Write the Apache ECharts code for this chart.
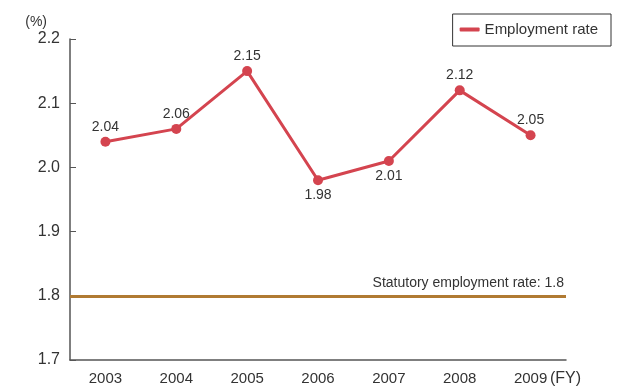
<!DOCTYPE html>
<html>
<head>
<meta charset="utf-8">
<script src="https://cdn.jsdelivr.net/npm/echarts@6/dist/echarts.min.js"></script>
<style>
  html, body { margin: 0; padding: 0; background: #fff; }
  #myChart { width: 624px; height: 387px; }
</style>
</head>
<body>
<div id="myChart"></div>
<script>
var years = ['2003', '2004', '2005', '2006', '2007', '2008', '2009'];
var employmentRate = [2.04, 2.06, 2.15, 1.98, 2.01, 2.12, 2.05];
var labelSide = ['top', 'top', 'top', 'bottom', 'bottom', 'top', 'top'];
var statutoryRate = 1.8;

var font = 'Liberation Sans, Arial, Helvetica, sans-serif';

function _initChart() {
    var myChart = echarts.init(document.getElementById('myChart'));
    var points = employmentRate.map(function (v, i) {
        return {
            value: v,
            label: { position: labelSide[i] }
        };
    });
    var option = {
        animation: false,
        textStyle: { fontFamily: font },
        legend: {
            right: 13,
            top: 14,
            padding: [8, 13, 9, 7],
            borderColor: '#333',
            borderWidth: 1,
            itemWidth: 20,
            itemHeight: 4,
            itemGap: 4,
            textStyle: { fontSize: 15, color: '#333', fontFamily: font },
            data: [{ name: 'Employment rate', icon: 'roundRect' }]
        },
        grid: { left: 70, right: 58, top: 39, bottom: 26 },
        xAxis: {
            type: 'category',
            data: years,
            boundaryGap: true,
            name: '(FY)',
            nameLocation: 'end',
            nameGap: -16,
            nameMoveOverlap: false,
            nameTextStyle: { fontSize: 16, color: '#333', align: 'left', verticalAlign: 'top', padding: [11, 0, 0, 0] },
            axisLine: { lineStyle: { color: '#555', width: 1.5 } },
            axisTick: { show: false },
            axisLabel: { fontSize: 15, color: '#333', margin: 11 }
        },
        yAxis: {
            type: 'value',
            min: 1.7,
            max: 2.2,
            interval: 0.1,
            name: '(%)',
            nameLocation: 'end',
            nameGap: 10,
            nameMoveOverlap: false,
            nameTextStyle: { fontSize: 14, color: '#333', align: 'right', padding: [0, 23, 0, 0] },
            axisLine: { show: true, lineStyle: { color: '#555', width: 1.5 } },
            axisTick: { show: true, inside: true, length: 6, lineStyle: { color: '#555' } },
            splitLine: { show: false },
            axisLabel: {
                fontSize: 16,
                color: '#333',
                margin: 10,
                formatter: function (v) { return v.toFixed(1); }
            }
        },
        series: [
            {
                name: 'Employment rate',
                type: 'line',
                data: points,
                symbol: 'circle',
                symbolSize: 10,
                lineStyle: { color: '#d4444f', width: 3 },
                itemStyle: { color: '#d4444f' },
                label: {
                    show: true,
                    fontSize: 14,
                    color: '#333',
                    distance: 3,
                    formatter: function (p) { return p.value.toFixed(2); }
                },
                markLine: {
                    silent: true,
                    symbol: 'none',
                    lineStyle: { color: '#b07a32', width: 3, type: 'solid' },
                    label: {
                        position: 'insideEndTop',
                        formatter: 'Statutory employment rate: ' + statutoryRate,
                        fontSize: 14,
                        color: '#333',
                        distance: [2, 6]
                    },
                    data: [{ yAxis: statutoryRate }]
                }
            }
        ]
    };
    myChart.setOption(option);
}

_initChart();
</script>
</body>
</html>
